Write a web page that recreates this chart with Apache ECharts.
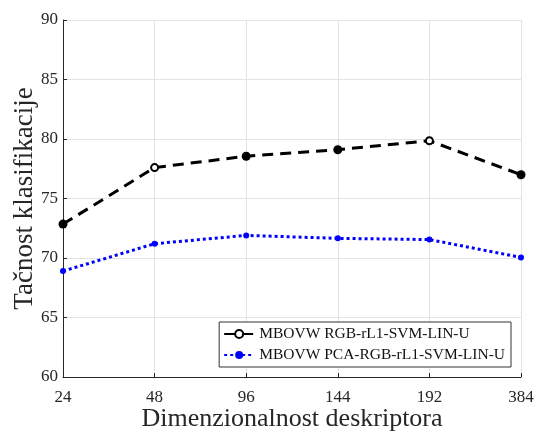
<!DOCTYPE html>
<html>
<head>
<meta charset="utf-8">
<script src="https://cdn.jsdelivr.net/npm/echarts@6/dist/echarts.min.js"></script>
<style>
html, body { margin: 0; padding: 0; background: #fff; }
#chart { width: 537px; height: 434px; }
</style>
</head>
<body>
<div id="chart"></div>
<script>
var categories = ['24', '48', '96', '144', '192', '384'];
var rgbValues = [72.85, 77.6, 78.55, 79.1, 79.85, 77.0];
var pcaValues = [68.9, 71.2, 71.9, 71.65, 71.55, 70.05];
var hollowIndex = [1, 4];

var serif = '"Liberation Serif", "DejaVu Serif", serif';

function drawChart() {
    var chart = echarts.init(document.getElementById('chart'));
    // open circles at 48 and 192, filled elsewhere
    var rgbData = [];
    for (var i = 0; i < rgbValues.length; i++) {
        var item = { value: rgbValues[i] };
        if (hollowIndex.indexOf(i) < 0) {
            item.symbol = 'circle';
            item.symbolSize = 9;
        }
        rgbData.push(item);
    }
    chart.setOption({
        animation: false,
        grid: {
            left: 63,
            right: 16,
            top: 20,
            bottom: 57,
            outerBoundsMode: 'none'
        },
        legend: {
            right: 26,
            bottom: 67,
            orient: 'vertical',
            itemWidth: 30,
            itemHeight: 10,
            itemGap: 5,
            padding: [4, 6, 4, 4],
            borderColor: '#333',
            borderWidth: 1,
            backgroundColor: '#fff',
            textStyle: { fontFamily: serif, fontSize: 15.5, color: '#111' },
            data: ['MBOVW RGB-rL1-SVM-LIN-U', 'MBOVW PCA-RGB-rL1-SVM-LIN-U']
        },
        xAxis: {
            type: 'category',
            boundaryGap: false,
            data: categories,
            name: 'Dimenzionalnost deskriptora',
            nameLocation: 'middle',
            nameGap: 29,
            nameMoveOverlap: false,
            nameTextStyle: { fontFamily: serif, fontSize: 26, color: '#262626' },
            axisLine: { lineStyle: { color: '#262626', width: 1 } },
            axisTick: { inside: true, length: 4, lineStyle: { color: '#262626' } },
            axisLabel: { fontFamily: serif, fontSize: 17, color: '#262626', margin: 12 },
            splitLine: { show: true, lineStyle: { color: '#e3e3e3', width: 1 } }
        },
        yAxis: {
            type: 'value',
            min: 60,
            max: 90,
            interval: 5,
            name: 'Tačnost klasifikacije',
            nameLocation: 'middle',
            nameGap: 25,
            nameMoveOverlap: false,
            nameTextStyle: { fontFamily: serif, fontSize: 27, color: '#262626' },
            axisLine: { show: true, lineStyle: { color: '#262626', width: 1 } },
            axisTick: { show: true, inside: true, length: 4, lineStyle: { color: '#262626' } },
            axisLabel: { fontFamily: serif, fontSize: 17, color: '#262626', margin: 5 },
            splitLine: { show: true, lineStyle: { color: '#e3e3e3', width: 1 } }
        },
        series: [
            {
                name: 'MBOVW RGB-rL1-SVM-LIN-U',
                type: 'line',
                data: rgbData,
                symbol: 'emptyCircle',
                symbolSize: 7,
                itemStyle: { color: '#000', borderWidth: 2 },
                lineStyle: { color: '#000', width: 3, type: [11, 7] },
                z: 3
            },
            {
                name: 'MBOVW PCA-RGB-rL1-SVM-LIN-U',
                type: 'line',
                data: pcaValues,
                symbol: 'circle',
                symbolSize: 6,
                itemStyle: { color: '#0000ff' },
                lineStyle: { color: '#0000ff', width: 3, type: [3, 3] },
                z: 2
            }
        ]
    });
}

drawChart();
</script>
</body>
</html>
